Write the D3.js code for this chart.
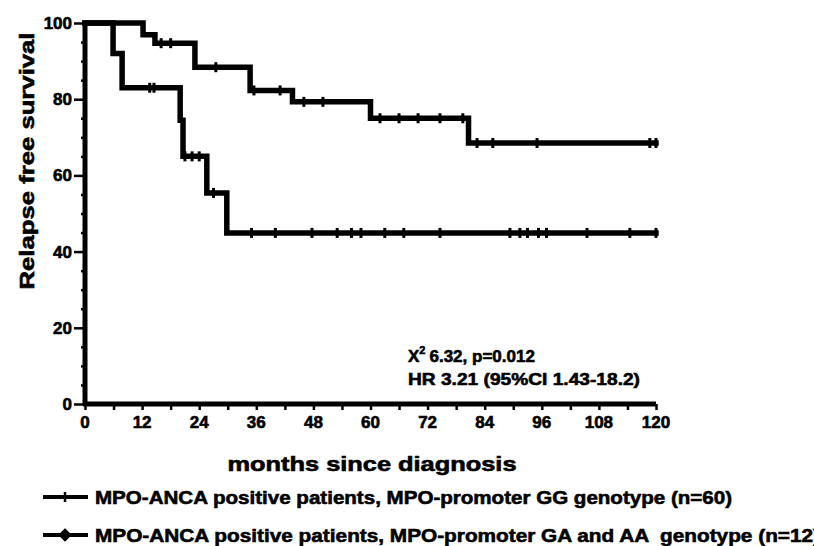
<!DOCTYPE html>
<html>
<head>
<meta charset="utf-8">
<script src="https://cdn.jsdelivr.net/npm/d3@7/dist/d3.min.js"></script>
<style>
  body { margin: 0; background: #fff; }
  svg text { font-family: "Liberation Sans", Arial, sans-serif; font-weight: bold; fill: #000;
             stroke: #000; stroke-width: 0.6px; white-space: pre; }
</style>
</head>
<body>
<div id="chart"></div>
<script>
// Kaplan-Meier steps (months, % relapse free)
var ggMonths = [0, 12.2, 14.7, 23.1, 34.7, 43.6, 60.0, 80.6, 120];
var ggSurvival = [100, 96.9, 94.7, 88.4, 82.3, 79.3, 75.0, 68.5, 68.5];
var ggCensored = [16, 18, 27.5, 35.5, 41, 46, 50, 62, 66, 70, 74.6, 79.4, 82.4, 85.7, 95, 118.7, 120];

var gaMonths = [0, 5.9, 7.8, 20.0, 20.6, 25.6, 29.8, 120];
var gaSurvival = [100, 92.0, 83.0, 74.5, 65.0, 55.4, 44.9, 44.9];
var gaCensored = [13.6, 14.5, 21, 22.5, 24, 27, 35, 40, 47.7, 53, 56, 58, 63, 67, 74.6, 89.3, 91.4, 93, 95.3, 97, 105.5, 114.5, 120];

var xTicks = [0, 12, 24, 36, 48, 60, 72, 84, 96, 108, 120];
var yTicks = [0, 20, 40, 60, 80, 100];

var legendLabels = [
    "MPO-ANCA positive patients, MPO-promoter GG genotype (n=60)",
    "MPO-ANCA positive patients, MPO-promoter GA and AA  genotype (n=12)"
];

var width = 814,
    height = 546;

var x = d3.scaleLinear().domain([0, 120]).range([85, 656]);
var y = d3.scaleLinear().domain([0, 100]).range([404, 23]);

var svg = d3.select("#chart").append("svg")
    .attr("width", width)
    .attr("height", height);

// axes
var xAxis = svg.append("g")
    .attr("transform", "translate(0," + y(0) + ")")
    .call(d3.axisBottom(x).tickValues(d3.range(0, 121, 6)).tickSize(6).tickFormat(""));
xAxis.select(".domain").attr("stroke-width", 5).attr("d", "M" + (x(0) - 2) + ",0H" + x(120));
xAxis.selectAll(".tick line").attr("stroke-width", 2.5);

svg.append("g").selectAll("text")
    .data(xTicks)
    .enter().append("text")
    .attr("x", function(d) { return x(d); })
    .attr("y", 428)
    .attr("text-anchor", "middle")
    .style("font-size", "17px")
    .text(function(d) { return d; });

var yAxis = svg.append("g")
    .attr("transform", "translate(" + x(0) + ",0)")
    .call(d3.axisLeft(y).tickValues(d3.range(0, 101, 5)).tickSize(4).tickFormat(""));
yAxis.select(".domain").attr("stroke-width", 5).attr("d", "M0," + (y(0) + 2) + "V" + (y(100) - 2));
yAxis.selectAll(".tick line").attr("stroke-width", 2.5);
yAxis.selectAll(".tick").filter(function(d) { return d % 20 === 0; })
    .select("line").attr("x2", -11);

svg.append("g").selectAll("text")
    .data(yTicks)
    .enter().append("text")
    .attr("x", 72)
    .attr("y", function(d) { return y(d) + 6; })
    .attr("text-anchor", "end")
    .style("font-size", "17px")
    .text(function(d) { return d; });

// axis titles
svg.append("text")
    .attr("x", 372)
    .attr("y", 471)
    .attr("text-anchor", "middle")
    .attr("textLength", 289)
    .attr("lengthAdjust", "spacingAndGlyphs")
    .style("font-size", "20px")
    .text("months since diagnosis");

svg.append("text")
    .attr("transform", "translate(34,161) rotate(-90)")
    .attr("text-anchor", "middle")
    .attr("textLength", 257)
    .attr("lengthAdjust", "spacingAndGlyphs")
    .style("font-size", "20px")
    .text("Relapse free survival");

// survival curves
var line = d3.line()
    .x(function(d) { return x(d[0]); })
    .y(function(d) { return y(d[1]); })
    .curve(d3.curveStepAfter);

function survivalAt(months, surv, t) {
    var i = d3.bisectRight(months, t) - 1;
    return surv[Math.max(0, i)];
}

var series = [
    {months: ggMonths, surv: ggSurvival, censored: ggCensored},
    {months: gaMonths, surv: gaSurvival, censored: gaCensored}
];

series.forEach(function(s) {
    svg.append("path")
        .datum(d3.zip(s.months, s.surv))
        .attr("fill", "none")
        .attr("stroke", "#000")
        .attr("stroke-width", 5.5)
        .attr("stroke-linejoin", "miter")
        .attr("stroke-linecap", "square")
        .attr("d", line);

    svg.append("g").selectAll("line")
        .data(s.censored)
        .enter().append("line")
        .attr("x1", function(d) { return x(d); })
        .attr("x2", function(d) { return x(d); })
        .attr("y1", function(d) { return y(survivalAt(s.months, s.surv, d)) - 5; })
        .attr("y2", function(d) { return y(survivalAt(s.months, s.surv, d)) + 5; })
        .attr("stroke", "#000")
        .attr("stroke-width", 3);
});

// statistics
var stats = svg.append("g").style("font-size", "17px");
var chi = stats.append("text").attr("x", 408).attr("y", 362);
chi.append("tspan").text("X");
chi.append("tspan").attr("dy", -8).style("font-size", "11px").text("2");
chi.append("tspan").attr("dy", 8).attr("dx", 4).text("6.32, p=0.012");

stats.append("text")
    .attr("x", 408)
    .attr("y", 385)
    .attr("textLength", 232)
    .attr("lengthAdjust", "spacingAndGlyphs")
    .text("HR 3.21 (95%CI 1.43-18.2)");

// legend
var legend = svg.append("g").selectAll("g")
    .data(legendLabels)
    .enter().append("g")
    .attr("transform", function(d, i) { return "translate(0," + (497 + i * 38) + ")"; });

legend.append("line")
    .attr("x1", 43).attr("x2", 88)
    .attr("stroke", "#000")
    .attr("stroke-width", 4);

legend.append("path")
    .attr("d", function(d, i) {
        return i === 0 ? "M65,-5V5" : "M65,-5L70,0L65,5L60,0Z";
    })
    .attr("stroke", "#000")
    .attr("stroke-width", 2.5)
    .attr("fill", "#000");

legend.append("text")
    .attr("x", 95)
    .attr("y", 7)
    .attr("textLength", function(d, i) { return i === 0 ? 637 : 725; })
    .attr("lengthAdjust", "spacingAndGlyphs")
    .style("font-size", "19px")
    .text(function(d) { return d; });
</script>
</body>
</html>
